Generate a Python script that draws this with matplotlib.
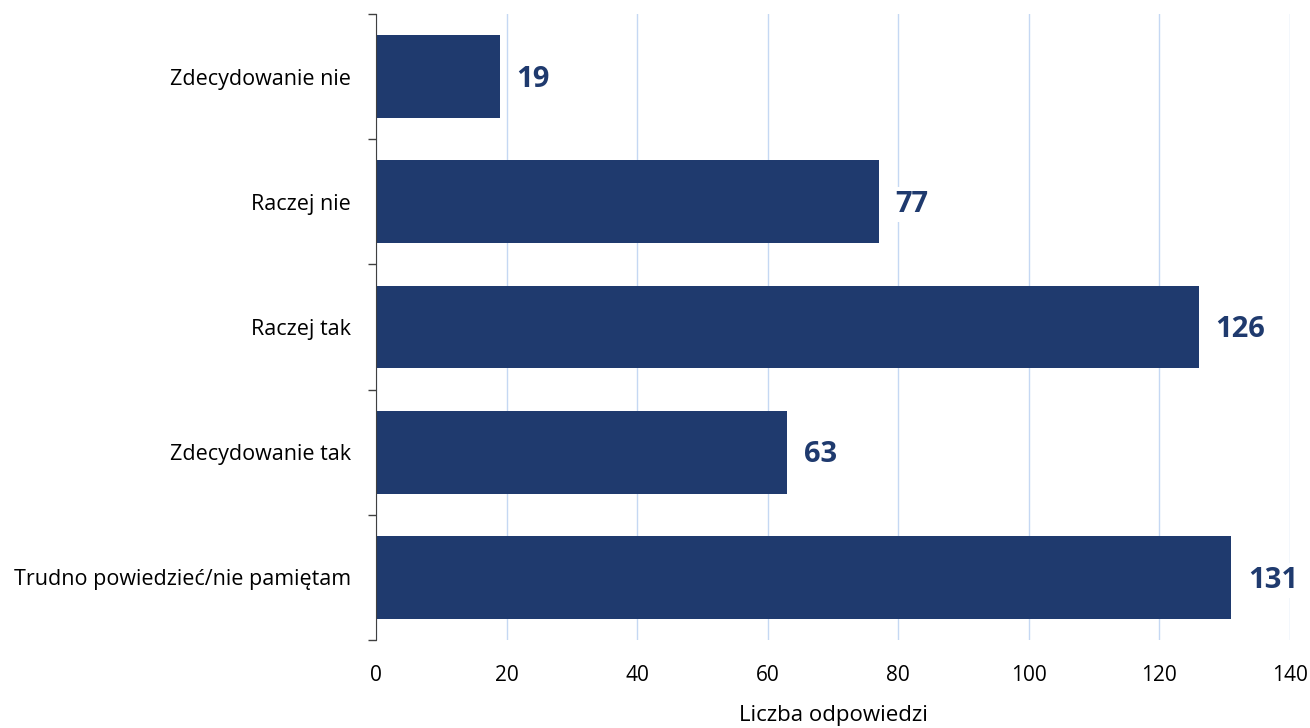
import numpy as np
import matplotlib.pyplot as plt

# Data
categories = ['Zdecydowanie nie', 'Raczej nie', 'Raczej tak',
              'Zdecydowanie tak', 'Trudno powiedzieć/nie pamiętam']
values = [19, 77, 126, 63, 131]
xticks = [0, 20, 40, 60, 80, 100, 120, 140]

bar_color = '#1F3A6E'
grid_color = '#C5D8F3'

plt.rcParams['font.family'] = ['Open Sans', 'DejaVu Sans']

fig = plt.figure(figsize=(13.1, 7.28), dpi=100)
ax = fig.add_axes([376 / 1310, 88 / 728, 914 / 1310, 626 / 728])

y = np.arange(len(categories))
ax.barh(y, values, height=0.66, color=bar_color, zorder=3)

ax.set_xlim(0, 140)
ax.set_ylim(len(categories) - 0.5, -0.5)

# vertical gridlines
ax.set_xticks(xticks)
ax.xaxis.grid(True, color=grid_color, linewidth=1, zorder=0)
ax.tick_params(axis='x', length=0, pad=18, labelsize=15)

# category labels, ticks at boundaries (Excel style)
ax.set_yticks(y)
ax.set_yticklabels(categories)
ax.tick_params(axis='y', which='major', length=0, pad=18, labelsize=15.5)
ax.set_yticks(np.arange(len(categories) + 1) - 0.5, minor=True)
ax.tick_params(axis='y', which='minor', length=6, width=1, color='#404040')

for side in ['top', 'right', 'bottom']:
    ax.spines[side].set_visible(False)
ax.spines['left'].set_color('#404040')
ax.spines['left'].set_zorder(4)

# value labels
for yi, v in zip(y, values):
    ax.annotate(str(v), xy=(v, yi), xytext=(12, -2), textcoords='offset points',
                ha='left', va='center', fontsize=21, fontweight='bold',
                color=bar_color, zorder=5,
                bbox=dict(facecolor='white', edgecolor='none', pad=2))

ax.set_xlabel('Liczba odpowiedzi', fontsize=16, labelpad=14)

fig.savefig('out.png', dpi=100)
